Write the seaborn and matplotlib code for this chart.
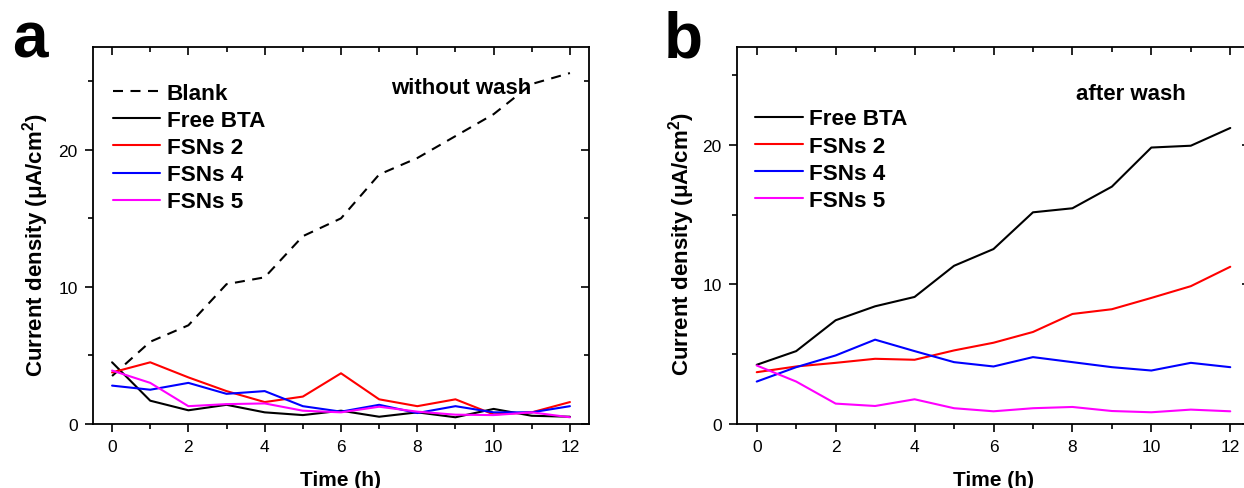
import numpy as np
import pandas as pd
import seaborn as sns
import matplotlib
matplotlib.use("Agg")
import matplotlib.pyplot as plt
from matplotlib.ticker import MultipleLocator

# ---- data ----
hours = [0, 1, 2, 3, 4, 5, 6, 7, 8, 9, 10, 11, 12]

a_blank = [3.5, 6.0, 7.2, 10.2, 10.7, 13.7, 15.0, 18.2, 19.4, 21.0, 22.6, 24.8, 25.6]
a_free_bta = [4.5, 1.7, 1.0, 1.4, 0.85, 0.65, 0.97, 0.53, 0.85, 0.49, 1.1, 0.6, 0.53]
a_fsns2 = [3.76, 4.5, 3.4, 2.4, 1.6, 2.0, 3.7, 1.8, 1.3, 1.8, 0.7, 0.85, 1.6]
a_fsns4 = [2.8, 2.5, 3.0, 2.2, 2.4, 1.3, 0.9, 1.4, 0.8, 1.3, 0.85, 0.85, 1.3]
a_fsns5 = [3.9, 3.0, 1.3, 1.45, 1.5, 0.97, 0.85, 1.26, 0.9, 0.68, 0.65, 0.85, 0.49]

b_free_bta = [4.24, 5.22, 7.43, 8.43, 9.1, 11.33, 12.53, 15.16, 15.45, 17.0, 19.8, 19.93, 21.2]
b_fsns2 = [3.71, 4.12, 4.38, 4.67, 4.6, 5.27, 5.82, 6.59, 7.88, 8.22, 9.03, 9.87, 11.26]
b_fsns4 = [3.04, 4.07, 4.91, 6.04, 5.22, 4.43, 4.12, 4.79, 4.43, 4.07, 3.83, 4.38, 4.07]
b_fsns5 = [4.19, 3.04, 1.46, 1.29, 1.77, 1.13, 0.91, 1.13, 1.22, 0.93, 0.84, 1.03, 0.91]

colors = {"Blank": "black", "Free BTA": "black", "FSNs 2": "#ff0000",
          "FSNs 4": "#0000ff", "FSNs 5": "#ff00ff"}

panel_a = {"Blank": a_blank, "Free BTA": a_free_bta, "FSNs 2": a_fsns2,
           "FSNs 4": a_fsns4, "FSNs 5": a_fsns5}
panel_b = {"Free BTA": b_free_bta, "FSNs 2": b_fsns2,
           "FSNs 4": b_fsns4, "FSNs 5": b_fsns5}

sns.set_theme(style="white")
plt.rcParams["font.family"] = ["Liberation Sans", "DejaVu Sans"]
plt.rcParams["mathtext.fontset"] = "custom"
plt.rcParams["mathtext.rm"] = "Liberation Sans"
plt.rcParams["mathtext.bf"] = "Liberation Sans:bold"
plt.rcParams["mathtext.it"] = "Liberation Sans:italic"
plt.rcParams["text.color"] = "black"
plt.rcParams["axes.labelcolor"] = "black"
plt.rcParams["xtick.color"] = "black"
plt.rcParams["ytick.color"] = "black"

W, H = 1244, 489
fig = plt.figure(figsize=(W / 100, H / 100), dpi=100)

ax_a = fig.add_axes([93 / W, 1 - 425 / H, (589 - 93) / W, (425 - 48) / H])
ax_b = fig.add_axes([737 / W, 1 - 425 / H, (1250 - 737) / W, (425 - 48) / H])


def draw(ax, data, ymax, legend_anchor, note, note_xy):
    for name, vals in data.items():
        df = pd.DataFrame({"Time": hours, "Current": vals})
        ls = (0, (4.8, 3.6)) if name == "Blank" else "-"
        sns.lineplot(data=df, x="Time", y="Current", ax=ax, color=colors[name],
                     linewidth=1.5, linestyle=ls, label=name)
    ax.set_xlim(-0.5, 12.5)
    ax.set_ylim(0, ymax)
    ax.xaxis.set_major_locator(MultipleLocator(2))
    ax.xaxis.set_minor_locator(MultipleLocator(1))
    ax.yaxis.set_major_locator(MultipleLocator(10))
    ax.yaxis.set_minor_locator(MultipleLocator(5))
    ax.tick_params(axis="both", which="major", direction="out", length=6, width=1.2,
                   labelsize=12.5, colors="black", bottom=True, left=True, pad=5)
    ax.tick_params(axis="both", which="minor", direction="out", length=3.5, width=1.2,
                   bottom=True, left=True)
    for sp in ax.spines.values():
        sp.set_linewidth(1.3)
        sp.set_color("black")
    # mirrored inward ticks on top and right
    top = ax.secondary_xaxis("top")
    top.xaxis.set_major_locator(MultipleLocator(2))
    top.xaxis.set_minor_locator(MultipleLocator(1))
    top.tick_params(which="major", direction="in", length=6, width=1.2, labeltop=False)
    top.tick_params(which="minor", direction="in", length=3.5, width=1.2)
    right = ax.secondary_yaxis("right")
    right.yaxis.set_major_locator(MultipleLocator(10))
    right.yaxis.set_minor_locator(MultipleLocator(5))
    right.tick_params(which="major", direction="in", length=6, width=1.2, labelright=False)
    right.tick_params(which="minor", direction="in", length=3.5, width=1.2)
    for s in (top, right):
        for sp in s.spines.values():
            sp.set_visible(False)

    ax.set_xlabel("Time (h)", fontsize=15, fontweight="bold")
    ax.set_ylabel(r"Current density ($\mathbf{\mu}$A/cm$^{\mathbf{2}}$)",
                  fontsize=16, fontweight="bold")
    ax.xaxis.set_label_coords(0.5, -0.122)
    ax.legend(loc="upper left", bbox_to_anchor=legend_anchor, frameon=False,
              prop={"weight": "bold", "size": 16.2}, handlelength=2.1,
              handletextpad=0.3, labelspacing=0.27, borderaxespad=0, borderpad=0)
    ax.text(note_xy[0], note_xy[1], note, transform=ax.transAxes, fontsize=16,
            fontweight="bold", ha="center", va="center")


draw(ax_a, panel_a, 27.5, (0.04, 0.904), "without wash", ((461 - 93) / 496, (425 - 88) / 377))
draw(ax_b, panel_b, 27.0, (0.036, 0.837), "after wash", ((1131 - 737) / 513, (425 - 94) / 377))

ax_a.yaxis.set_label_coords((51 - 93) / 496, 0.477)
ax_b.yaxis.set_label_coords((697 - 737) / 513, 0.48)

fig.text(30 / W, 1 - 58 / H, "a", fontsize=46, fontweight="bold", ha="center", va="baseline")
fig.text(683 / W, 1 - 58 / H, "b", fontsize=46, fontweight="bold", ha="center", va="baseline")

fig.savefig("out.png", dpi=100)
